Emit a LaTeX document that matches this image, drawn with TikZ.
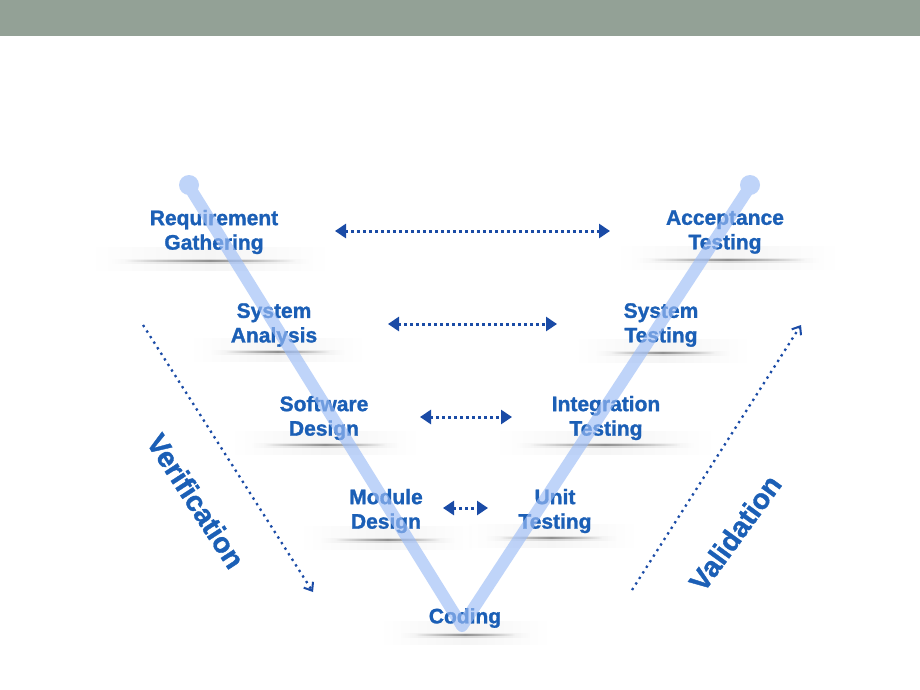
\documentclass[tikz,border=0pt]{standalone}
\usepackage{fontspec}
\setmainfont{Liberation Sans}[BoldFeatures={FakeBold=1.3}]
\usetikzlibrary{arrows.meta,fadings}
\definecolor{band}{HTML}{93A196}
\definecolor{txt}{HTML}{1B5FB6}
\definecolor{arr}{HTML}{1A4BA6}
\definecolor{vline}{HTML}{9DBDF6}
\tikzfading[name=barfade, left color=transparent!100, right color=transparent!100, middle color=transparent!0]
\newcommand{\shbar}[3]{%
  \fill[black, path fading=barfade, opacity=.04] (#1-25,#3-14) rectangle (#2+25,#3+10);
  \fill[black, path fading=barfade, opacity=.12] (#1-5,#3-2.5) rectangle (#2+5,#3+3);
  \fill[black!70, path fading=barfade, opacity=.5] (#1+10,#3-1) rectangle (#2-10,#3+1.2);
}
\begin{document}
\begin{tikzpicture}[x=1pt,y=-1pt,
  lbl/.style={font=\fontsize{21}{24.5}\selectfont\bfseries, text=txt, align=center, inner sep=0pt},
  side/.style={font=\fontsize{28.5}{30}\selectfont\bfseries, text=txt, inner sep=0pt},
  pair/.style={arr, line width=3pt, dash pattern=on 3pt off 3pt,
    {Triangle[length=11pt,width=14pt]}-{Triangle[length=11pt,width=14pt]}},
  flow/.style={arr, line width=2.3pt, dash pattern=on 2.3pt off 4.3pt,
    -{Straight Barb[length=7pt,width=11pt,line width=2pt]}},
  vstroke/.style={vline, line width=12pt, line cap=round, line join=round, opacity=.65}]
\useasboundingbox (0,0) rectangle (920,690);
\fill[white] (0,0) rectangle (920,690);
\fill[band] (0,0) rectangle (920,36);

% shadows
\shbar{115}{305}{261}
\shbar{215}{340}{352}
\shbar{255}{395}{445}
\shbar{325}{450}{540}
\shbar{405}{525}{635}
\shbar{640}{815}{260}
\shbar{600}{725}{353}
\shbar{520}{690}{445}
\shbar{490}{612}{538}

% labels
\node[lbl] (req) at (214,232) {Requirement\\Gathering};
\node[lbl] (acc) at (725,232) {Acceptance\\Testing};
\node[lbl] (sysa) at (274,325) {System\\Analysis};
\node[lbl] (syst) at (661,325) {System\\Testing};
\node[lbl] (sw) at (324,418) {Software\\Design};
\node[lbl] (integ) at (606,418) {Integration\\Testing};
\node[lbl] (mod) at (386,511) {Module\\Design};
\node[lbl] (unit) at (555,511) {Unit\\Testing};
\node[lbl] (cod) at (465,618) {Coding};

% V stroke
\coordinate (vl) at (190,188);
\coordinate (vb) at (462,626);
\coordinate (vr) at (749,188);
\begin{scope}[transparency group, opacity=.65]
\draw[vline, line width=12pt, line cap=round, line join=round] (vl) -- (vb) -- (vr);
\fill[vline] (vl) ++(-1,-3) circle (10pt);
\fill[vline] (vr) ++(1,-3) circle (10pt);
\end{scope}

% paired arrows
\coordinate (a1l) at (335,231); \coordinate (a1r) at (610,231);
\coordinate (a2l) at (388,324); \coordinate (a2r) at (557,324);
\coordinate (a3l) at (420,417); \coordinate (a3r) at (512,417);
\coordinate (a4l) at (443,508); \coordinate (a4r) at (488,508);
\draw[pair] (a1l) -- (a1r);
\draw[pair] (a2l) -- (a2r);
\draw[pair] (a3l) -- (a3r);
\draw[pair] (a4l) -- (a4r);

% verification / validation
\coordinate (vfs) at (143,325); \coordinate (vfe) at (313,592);
\coordinate (vds) at (632,590); \coordinate (vde) at (801,325);
\draw[flow] (vfs) -- (vfe);
\draw[flow] (vds) -- (vde);
\node[side, rotate=-57] (verif) at (196,501) {Verification};
\node[side, rotate=54] (valid) at (735,533) {Validation};
\end{tikzpicture}
\end{document}
